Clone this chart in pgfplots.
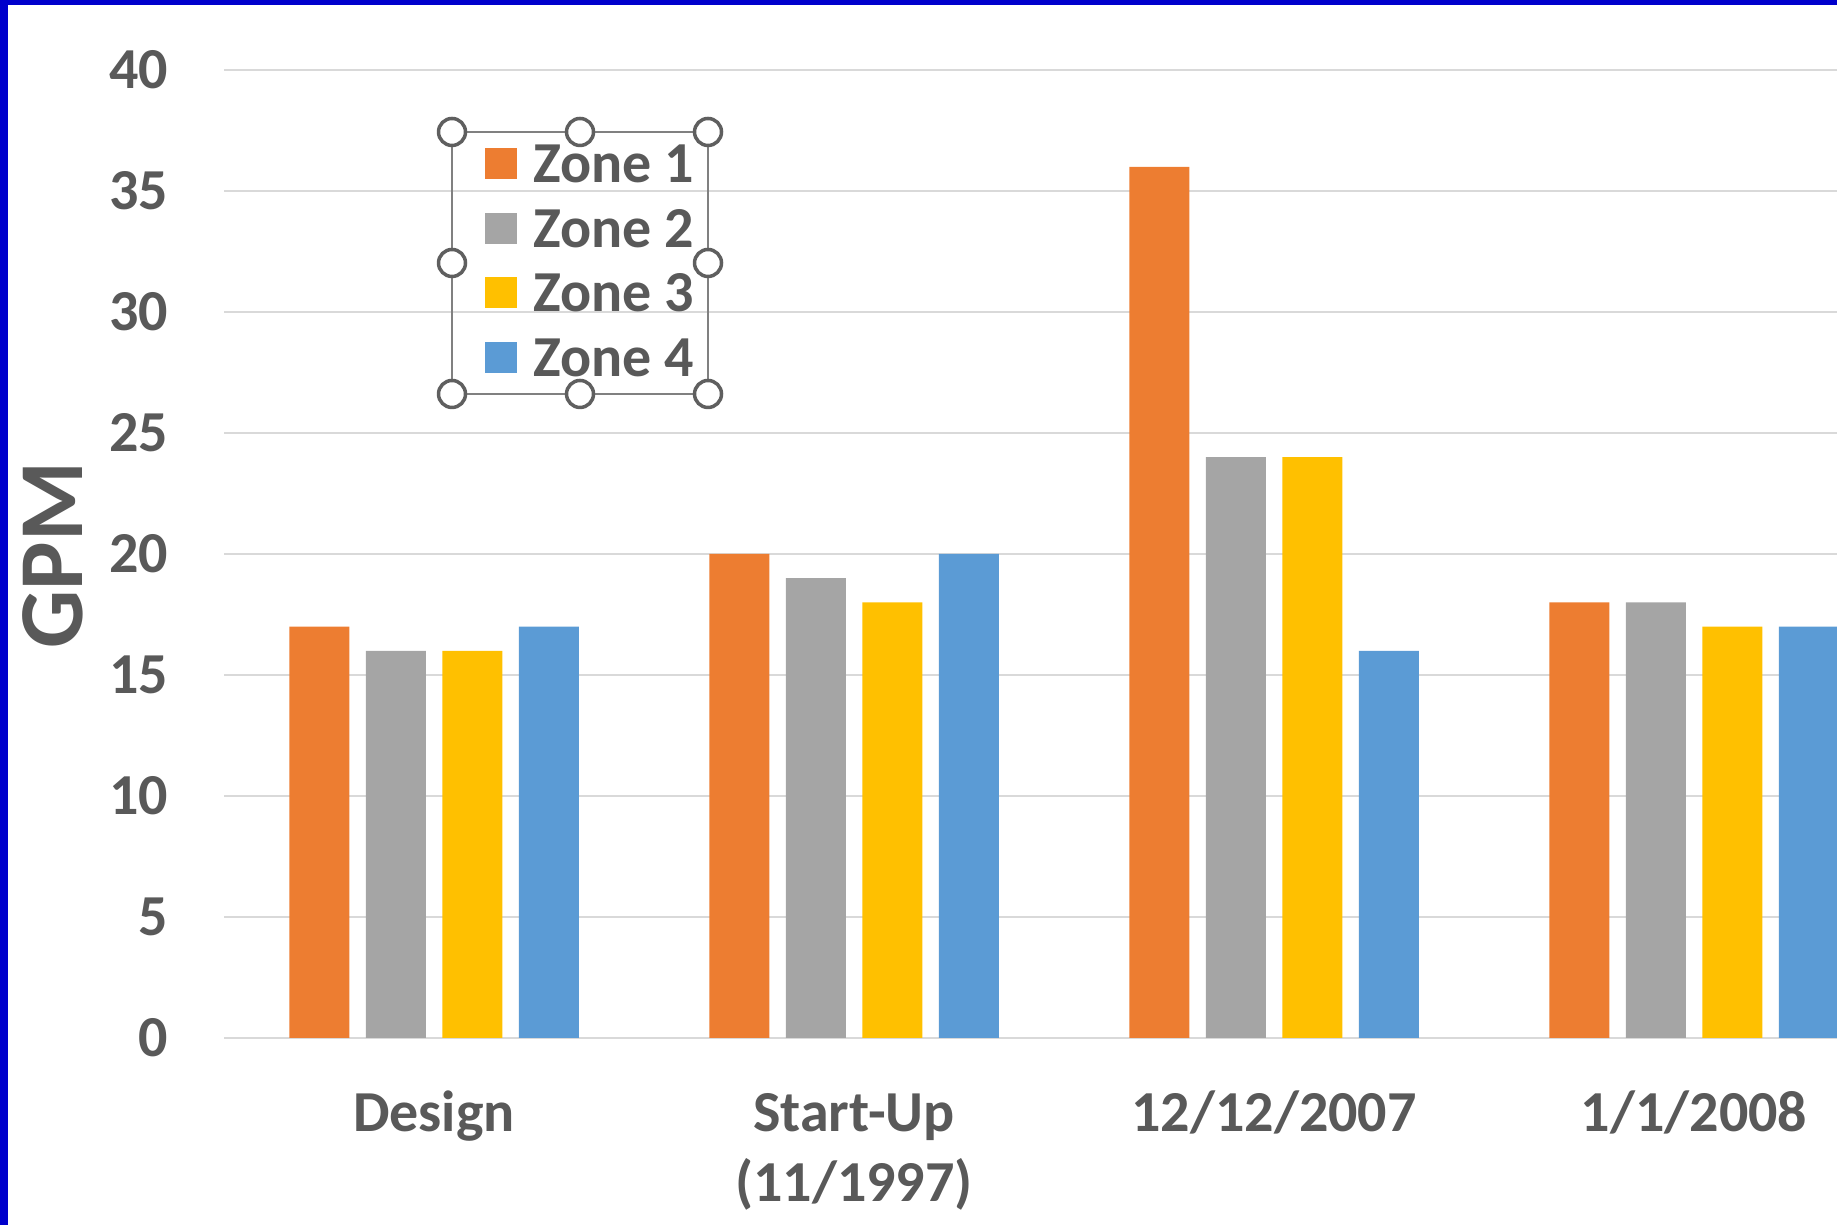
\documentclass[border=0pt]{standalone}
\usepackage{fontspec}
\setmainfont{Carlito}
\usepackage{pgfplots}
\pgfplotsset{compat=1.18}

\definecolor{zoneA}{HTML}{ED7D31}
\definecolor{zoneB}{HTML}{A5A5A5}
\definecolor{zoneC}{HTML}{FFC000}
\definecolor{zoneD}{HTML}{5B9BD5}
\definecolor{textgray}{HTML}{595959}
\definecolor{gridgray}{HTML}{D9D9D9}
\definecolor{handlegray}{HTML}{5F5F5F}
\definecolor{framegray}{HTML}{808080}
\definecolor{edgeblue}{HTML}{0000CC}

\newcommand\lblfont{\fontsize{16.5}{20}\selectfont\bfseries}

\pgfplotsset{
  sq legend/.style={
    legend image code/.code={\fill[##1,draw=none] (0cm,-0.155cm) rectangle (0.32cm,0.155cm);}
  }
}

\begin{document}
\begin{tikzpicture}
\useasboundingbox (0,0) rectangle (18.37,12.25);

\begin{axis}[
  scale only axis,
  width=16.13cm, height=9.68cm,
  at={(2.24cm,1.87cm)}, anchor=south west,
  xmin=-0.5, xmax=3.3405,
  ymin=0, ymax=40,
  ybar=0.165cm, bar width=0.6cm,
  axis line style={draw=none},
  major tick length=0pt,
  ymajorgrids,
  grid style={color=gridgray, line width=0.02cm},
  ytick={0,5,...,40},
  xtick={0,1,2,3},
  xticklabels={{\strut Design},{\strut Start-Up\\(11/1997)},{\strut 12/12/2007},{\strut 1/1/2008}},
  /pgf/number format/assume math mode=true,
  yticklabel style={font=\lblfont, text=textgray, anchor=east, inner sep=0pt, xshift=-0.55cm},
  xticklabel style={font=\lblfont, text=textgray, anchor=north, inner sep=0pt,
    align=center, yshift=-0.433cm},
  ylabel={GPM},
  ylabel style={font=\fontsize{26}{30}\selectfont\bfseries, text=textgray,
    at={(axis description cs:-0.1062,0.499)}, anchor=center, inner sep=0pt},
  legend cell align=left,
  legend style={at={(axis description cs:0.1618,0.9329)}, anchor=north west,
    draw=none, fill=none, inner sep=0pt, outer sep=0pt,
    row sep=0.065cm, font=\lblfont, text=textgray,
    nodes={inner sep=0pt, text height=0.48cm, text depth=0.1cm},
    /tikz/every odd column/.append style={column sep=0.16cm}},
]
\addplot[fill=zoneA, draw=none, sq legend] coordinates {(0,17) (1,20) (2,36) (3,18)};
\addplot[fill=zoneB, draw=none, sq legend] coordinates {(0,16) (1,19) (2,24) (3,18)};
\addplot[fill=zoneC, draw=none, sq legend] coordinates {(0,16) (1,18) (2,24) (3,17)};
\addplot[fill=zoneD, draw=none, sq legend] coordinates {(0,17) (1,20) (2,16) (3,17)};
\legend{Zone 1,Zone 2,Zone 3,Zone 4}
\end{axis}

% selection frame around the legend
\draw[framegray, line width=0.02cm] (4.52,10.93) rectangle (7.08,8.31);
\foreach \hx in {4.52,5.80,7.08}{
  \foreach \hy in {10.93,8.31}{
    \draw[handlegray, fill=white, line width=0.035cm] (\hx,\hy) circle (0.135cm);
  }
}
\foreach \hx in {4.52,7.08}{
  \draw[handlegray, fill=white, line width=0.035cm] (\hx,9.62) circle (0.135cm);
}

% window edges
\fill[edgeblue] (0,0) rectangle (0.08,12.25);
\fill[edgeblue] (0,12.20) rectangle (18.37,12.25);
\end{tikzpicture}
\end{document}
